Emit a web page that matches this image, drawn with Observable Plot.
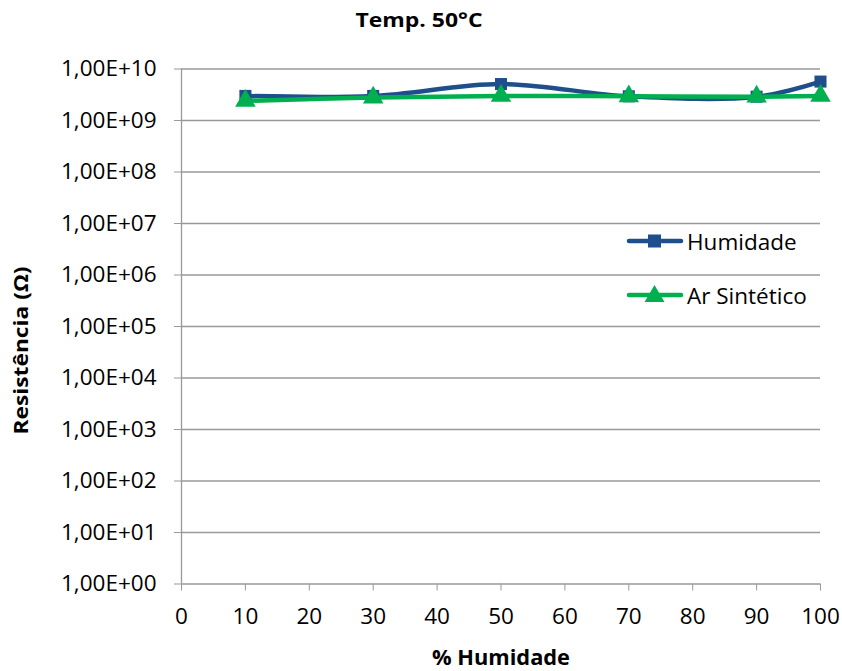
<!DOCTYPE html>
<html>
<head>
<meta charset="utf-8">
<script src="https://cdn.jsdelivr.net/npm/d3@7"></script>
<script src="https://cdn.jsdelivr.net/npm/@observablehq/plot@0.6"></script>
<style>
  body { margin: 0; background: #fff; font-family: "Open Sans", sans-serif; }
  #wrap { position: relative; width: 842px; height: 671px; }
  #legend { position: absolute; left: 626px; top: 227px; font-size: 22.5px; color: #000; }
  #legend .row { display: flex; align-items: center; height: 28px; margin-bottom: 26px; }
  #legend svg { margin-right: 3px; }
</style>
</head>
<body>
<div id="wrap"></div>
<script>
const xValues = [10, 30, 50, 70, 90, 100];
const humidade = [3.0e9, 3.0e9, 5.1e9, 2.95e9, 2.9e9, 5.7e9];
const arSintetico = [2.4e9, 2.8e9, 3.0e9, 2.95e9, 2.9e9, 3.0e9];
const seriesNames = ["Humidade", "Ar Sintético"];
const seriesColors = ["#1F4E8C", "#00B050"];
const xTicks = [0, 10, 20, 30, 40, 50, 60, 70, 80, 90, 100];
const yTicks = [1e0, 1e1, 1e2, 1e3, 1e4, 1e5, 1e6, 1e7, 1e8, 1e9, 1e10];
const titleText = "Temp. 50°C";
const xLabel = "% Humidade";
const yLabel = "Resistência (Ω)";

const hum = xValues.map((x, i) => ({x, y: humidade[i]}));
const ar = xValues.map((x, i) => ({x, y: arSintetico[i]}));
const fmt = d => "1,00E+" + String(Math.round(Math.log10(d))).padStart(2, "0");

const chart = Plot.plot({
  width: 842,
  height: 671,
  marginLeft: 181,
  marginRight: 22,
  marginTop: 68.5,
  marginBottom: 87.5,
  style: {fontFamily: "'Open Sans', sans-serif", fontSize: "22.5px", color: "#000", background: "#fff"},
  x: {domain: [0, 100], ticks: xTicks},
  y: {type: "log", domain: [1, 1e10], ticks: yTicks},
  marks: [
    Plot.ruleY(yTicks, {stroke: "#999", strokeWidth: 1.3}),
    Plot.ruleX([0], {stroke: "#999", strokeWidth: 1.3}),
    Plot.axisY({ticks: yTicks, tickFormat: fmt, tickSize: 7, tickPadding: 18, stroke: "#999",
      label: yLabel, labelAnchor: "center", labelArrow: "none", labelOffset: 167}),
    Plot.axisX({ticks: xTicks, tickSize: 7, tickPadding: 17, stroke: "#999",
      label: xLabel, labelAnchor: "center", labelArrow: "none", labelOffset: 81}),
    Plot.line(hum, {x: "x", y: "y", stroke: seriesColors[0], strokeWidth: 4.5, curve: "catmull-rom"}),
    Plot.line(ar, {x: "x", y: "y", stroke: seriesColors[1], strokeWidth: 4.5, curve: "catmull-rom"}),
    Plot.dot(hum, {x: "x", y: "y", symbol: "square", r: 6.8, fill: seriesColors[0]}),
    Plot.dot(ar, {x: "x", y: "y", symbol: "triangle", r: 7.6, fill: seriesColors[1]}),
    Plot.text([titleText], {frameAnchor: "top", lineAnchor: "middle", dy: -48.5, dx: -82, fontWeight: "bold", fontSize: 20})
  ]
});
const svg = d3.select(chart);
const yl = svg.select("[aria-label='y-axis label']");
yl.attr("transform", (yl.attr("transform") || "") + " translate(0,24)");
yl.selectAll("text")
  .style("font-weight", "bold").style("font-size", "19px")
  .attr("textLength", 168).attr("lengthAdjust", "spacingAndGlyphs");
svg.selectAll("[aria-label='x-axis label'] text")
  .style("font-weight", "bold").style("font-size", "22px")
  .attr("textLength", 138).attr("lengthAdjust", "spacingAndGlyphs");
svg.selectAll("[aria-label='text'] text")
  .attr("textLength", 127).attr("lengthAdjust", "spacingAndGlyphs");
document.getElementById("wrap").appendChild(chart);

const legend = document.createElement("div");
legend.id = "legend";
legend.innerHTML = seriesNames.map((n, i) => {
  const sym = i === 0
    ? `<rect x="22" y="7.5" width="13" height="13" fill="${seriesColors[i]}"/>`
    : `<polygon points="28.5,4 38.5,21 18.5,21" fill="${seriesColors[i]}"/>`;
  return `<div class="row"><svg width="58" height="28"><line x1="3" x2="55" y1="14" y2="14" stroke="${seriesColors[i]}" stroke-width="4.5" stroke-linecap="round"/>${sym}</svg><span>${n}</span></div>`;
}).join("");
document.getElementById("wrap").appendChild(legend);
</script>
</body>
</html>
